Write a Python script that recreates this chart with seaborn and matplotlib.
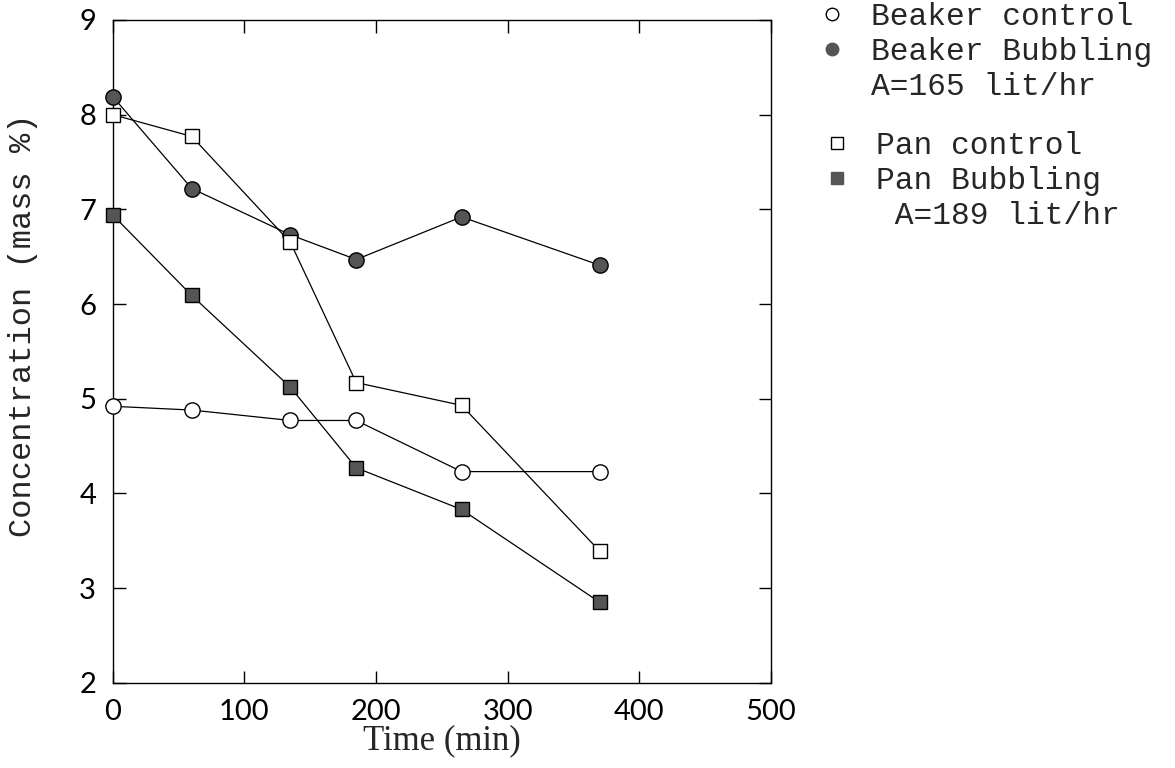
import numpy as np
import matplotlib
matplotlib.use("Agg")
import matplotlib.pyplot as plt
import seaborn as sns
import pandas as pd
from matplotlib.lines import Line2D

# values
time = [0, 60, 135, 185, 265, 370]
beaker_control = [4.92, 4.88, 4.77, 4.77, 4.23, 4.23]
beaker_bubbling = [8.19, 7.22, 6.73, 6.47, 6.92, 6.41]
pan_control = [8.00, 7.77, 6.65, 5.17, 4.93, 3.39]
pan_bubbling = [6.94, 6.09, 5.12, 4.27, 3.83, 2.85]

x_ticks = [0, 100, 200, 300, 400, 500]
y_ticks = [2, 3, 4, 5, 6, 7, 8, 9]

sns.set_style("ticks")
plt.rcParams["font.family"] = ["DejaVu Sans"]

fig = plt.figure(figsize=(11.75, 7.68), dpi=100)
ax = fig.add_axes([0.096, 0.111, 0.560, 0.863])

gray = "#555555"
series = [
    (beaker_control, "o", "white", 11, "Beaker control"),
    (beaker_bubbling, "o", gray, 11, "Beaker Bubbling"),
    (pan_control, "s", "white", 10, "Pan control"),
    (pan_bubbling, "s", gray, 10, "Pan Bubbling"),
]
for vals, mk, fc, ms, name in series:
    df = pd.DataFrame({"time": time, "conc": vals})
    sns.lineplot(data=df, x="time", y="conc", ax=ax, color="black", lw=0.9,
                 marker=mk, markersize=ms, markerfacecolor=fc,
                 markeredgecolor="black", markeredgewidth=1.0, zorder=3,
                 clip_on=False)

ax.set_xlim(0, 500)
ax.set_ylim(2, 9)
ax.set_xticks(x_ticks)
ax.set_yticks(y_ticks)
ax.tick_params(direction="in", length=9, width=1.0, top=True, right=True,
               labelsize=21, colors="black")
ax.tick_params(axis="x", pad=12)
ax.tick_params(axis="y", pad=12)
for lab in ax.get_xticklabels() + ax.get_yticklabels():
    lab.set_family("Lato")
for sp in ax.spines.values():
    sp.set_linewidth(1.0)
    sp.set_color("black")

ax.set_xlabel("Time (min)", family="Liberation Serif", fontsize=25)
ax.xaxis.set_label_coords(0.5, -0.062)
ax.set_ylabel("Concentration (mass %)", family="Liberation Mono", fontsize=23)
ax.yaxis.set_label_coords(-0.113, 0.54)

# legend outside on the right, two groups
def mk_handle(m, fc, ms):
    ec = "black" if fc == "white" else gray
    return Line2D([], [], linestyle="none", marker=m, markersize=ms,
                  markerfacecolor=fc, markeredgecolor=ec)

blank = Line2D([], [], linestyle="none")
leg_kw = dict(loc="upper left", frameon=False,
              prop={"family": "Liberation Mono", "size": 22.5},
              handlelength=1.0, handletextpad=0.75, labelspacing=0.17,
              borderaxespad=0, borderpad=0)
leg1 = fig.legend([mk_handle("o", "white", 9), mk_handle("o", gray, 9), blank],
                  ["Beaker control", "Beaker Bubbling", "A=165 lit/hr"],
                  bbox_to_anchor=(0.695, 0.998), **leg_kw)
leg2 = fig.legend([mk_handle("s", "white", 8), mk_handle("s", gray, 8), blank],
                  ["Pan control", "Pan Bubbling", " A=189 lit/hr"],
                  bbox_to_anchor=(0.699, 0.83), **leg_kw)

fig.savefig("out.png", dpi=100)
